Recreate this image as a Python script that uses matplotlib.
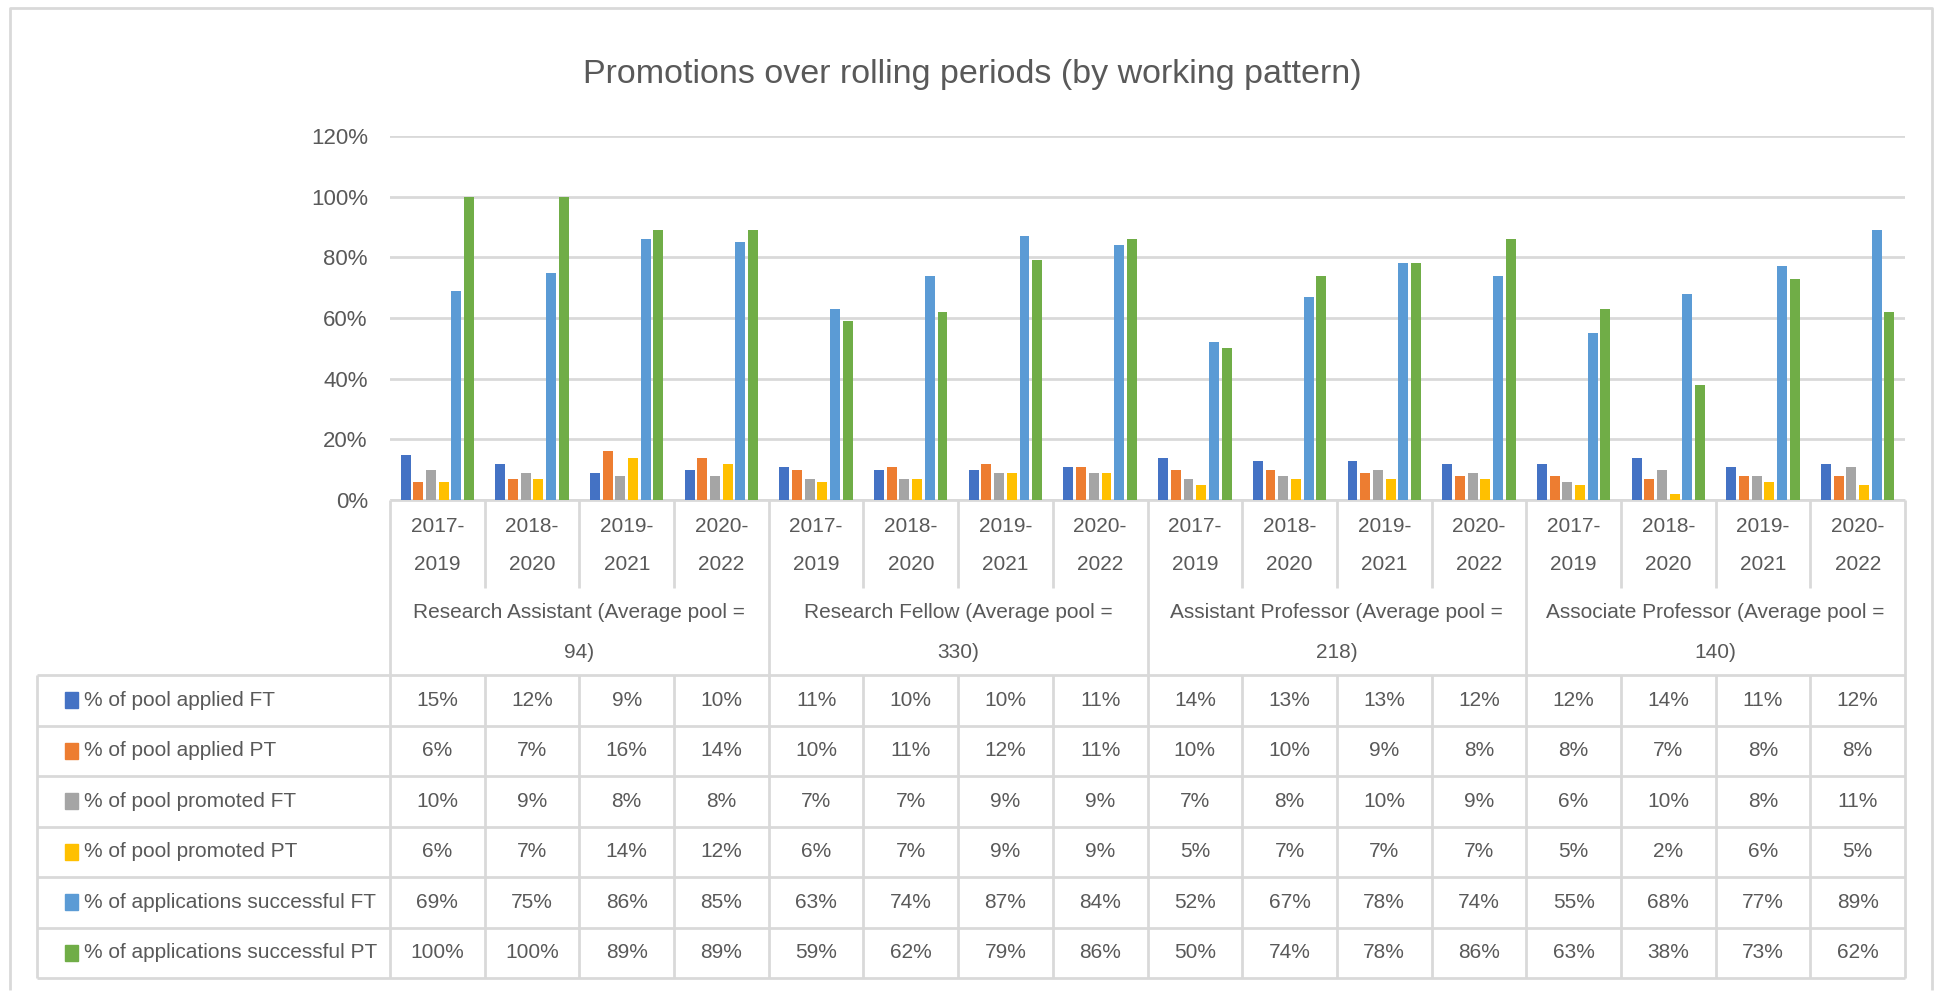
import matplotlib
matplotlib.use("Agg")
import matplotlib.pyplot as plt
import numpy as np

plt.rcParams["font.family"] = ["Liberation Sans", "DejaVu Sans"]

# ---- data -------------------------------------------------------------
periods = ["2017-\n2019", "2018-\n2020", "2019-\n2021", "2020-\n2022"]
groups = [
    "Research Assistant (Average pool =\n94)",
    "Research Fellow (Average pool =\n330)",
    "Assistant Professor (Average pool =\n218)",
    "Associate Professor (Average pool =\n140)",
]
series_names = [
    "% of pool applied FT",
    "% of pool applied PT",
    "% of pool promoted FT",
    "% of pool promoted PT",
    "% of applications successful FT",
    "% of applications successful PT",
]
applied_ft = [15, 12, 9, 10, 11, 10, 10, 11, 14, 13, 13, 12, 12, 14, 11, 12]
applied_pt = [6, 7, 16, 14, 10, 11, 12, 11, 10, 10, 9, 8, 8, 7, 8, 8]
promoted_ft = [10, 9, 8, 8, 7, 7, 9, 9, 7, 8, 10, 9, 6, 10, 8, 11]
promoted_pt = [6, 7, 14, 12, 6, 7, 9, 9, 5, 7, 7, 7, 5, 2, 6, 5]
success_ft = [69, 75, 86, 85, 63, 74, 87, 84, 52, 67, 78, 74, 55, 68, 77, 89]
success_pt = [100, 100, 89, 89, 59, 62, 79, 86, 50, 74, 78, 86, 63, 38, 73, 62]
yticks = [0, 20, 40, 60, 80, 100, 120]

series = [applied_ft, applied_pt, promoted_ft, promoted_pt, success_ft, success_pt]
colors = ["#4472C4", "#ED7D31", "#A5A5A5", "#FFC000", "#5B9BD5", "#70AD47"]
txt = "#595959"
grid = "#D9D9D9"

W, H = 1937, 991
fig = plt.figure(figsize=(W / 100, H / 100), dpi=100)

# pixel layout
px_left, px_right = 390, 1905
px_top, px_base = 136, 500
tbl_left = 37
row_top = 675
row_h = (978 - 675) / 6
n_cat = len(groups) * len(periods)
col_w = (px_right - px_left) / n_cat

# overlay in pixel coords (y down)
ov = fig.add_axes([0, 0, 1, 1])
ov.set_xlim(0, W)
ov.set_ylim(H, 0)
ov.axis("off")

# chart frame
ov.plot([10, 10, 1932, 1932], [990, 8, 8, 990], color=grid, lw=2, solid_capstyle="butt")

ov.text(972, 74, "Promotions over rolling periods (by working pattern)",
        ha="center", va="center", fontsize=24.5, color=txt)

# ---- bars -------------------------------------------------------------
ax = fig.add_axes([px_left / W, 1 - px_base / H, (px_right - px_left) / W,
                   (px_base - px_top) / H])
x = np.arange(n_cat)
step, bw = 0.134, 0.105
for i, (vals, c) in enumerate(zip(series, colors)):
    ax.bar(x + (i - 2.5) * step, np.array(vals) / 100, width=bw, color=c,
           label=series_names[i], zorder=3)
ax.set_xlim(-0.5, n_cat - 0.5)
ax.set_ylim(0, 1.2)
ax.set_yticks([t / 100 for t in yticks])
ax.set_yticklabels([f"{t}%" for t in yticks], fontsize=16, color=txt)
ax.tick_params(axis="y", length=0, pad=16)
ax.set_xticks([])
ax.grid(axis="y", color=grid, lw=2, zorder=0)
for s in ax.spines.values():
    s.set_visible(False)
ax.patch.set_alpha(0)

# ---- table ------------------------------------------------------------
lkw = dict(color=grid, lw=2, solid_capstyle="butt", zorder=1)
ov.plot([px_left, px_right], [px_base, px_base], **lkw)
for r in range(7):
    y = row_top + r * row_h
    ov.plot([tbl_left, px_right], [y, y], **lkw)
ov.plot([tbl_left, tbl_left], [row_top, row_top + 6 * row_h], **lkw)
for k in range(n_cat + 1):
    xk = px_left + k * col_w
    if k % len(periods) == 0:
        ov.plot([xk, xk], [px_base, row_top + 6 * row_h], **lkw)
    else:
        ov.plot([xk, xk], [px_base, 588], **lkw)
        ov.plot([xk, xk], [row_top, row_top + 6 * row_h], **lkw)

fs = 15
for k in range(n_cat):
    xc = px_left + (k + 0.5) * col_w
    top, bot = periods[k % len(periods)].split("\n")
    ov.text(xc, 527, top, ha="center", va="center", fontsize=fs, color=txt)
    ov.text(xc, 565, bot, ha="center", va="center", fontsize=fs, color=txt)
    for r, vals in enumerate(series):
        ov.text(xc, row_top + (r + 0.5) * row_h, f"{vals[k]}%",
                ha="center", va="center", fontsize=fs, color=txt)

for g, name in enumerate(groups):
    xc = px_left + (g + 0.5) * len(periods) * col_w
    l1, l2 = name.split("\n")
    ov.text(xc, 613, l1, ha="center", va="center", fontsize=fs, color=txt)
    ov.text(xc, 652, l2, ha="center", va="center", fontsize=fs, color=txt)

for r, (name, c) in enumerate(zip(series_names, colors)):
    yc = row_top + (r + 0.5) * row_h
    ov.add_patch(plt.Rectangle((65, yc - 8), 13, 16, color=c, zorder=2))
    ov.text(84, yc, name, ha="left", va="center", fontsize=fs, color=txt)

fig.savefig("out.png", dpi=100)
